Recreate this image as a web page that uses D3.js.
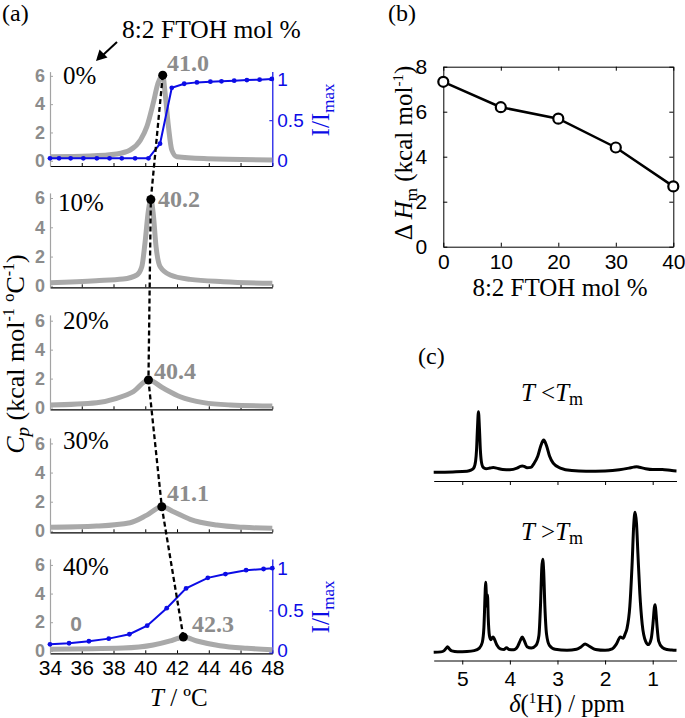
<!DOCTYPE html>
<html><head><meta charset="utf-8">
<script src="https://cdn.jsdelivr.net/npm/d3@7"></script>
<style>body{margin:0;background:#fff} svg{display:block}</style>
</head><body><svg id="c" width="685" height="718"></svg>
<script>
// ---------------- Panel (a) data ----------------
const tempTicks = [34,36,38,40,42,44,46,48];
const cpTicks = [0,2,4,6];
const ratioTicks = [0,0.5,1];
const ratioTickLabels = ["0","0.5","1"];
const molLabels = ["0%","10%","20%","30%","40%"];
const peakLabels = ["41.0","40.2","40.4","41.1","42.3"];
const peakT = [41.1, 40.35, 40.2, 41.04, 42.4];
const peakCp = [6.05, 5.9, 1.9, 1.65, 0.97];

const cpT_0 = [34,36.5,38.2,39.05,39.7,40.1,40.5,40.8,41.1,41.25,41.46,41.67,41.98,43.9,48];
const cp_0  = [0.29,0.34,0.48,0.76,1.47,2.41,4.07,5.48,6.05,4.77,2.41,0.76,0.29,0.15,0.06];
const cpT_10 = [34,36.9,38.6,39.47,39.78,40.0,40.2,40.35,40.5,40.68,40.94,41.57,42.83,44.93,48];
const cp_10  = [0.21,0.35,0.46,0.74,1.3,3.1,5.17,5.9,4.94,2.67,1.3,0.74,0.44,0.28,0.17];
const cpT_20 = [34,36.94,38.2,39.25,40.2,41.15,42.2,43.67,45.35,48];
const cp_20  = [0.18,0.34,0.64,1.1,1.9,1.33,0.75,0.34,0.18,0.11];
const cpT_30 = [34,36.94,39.04,40.1,41.04,41.78,42.83,44.5,46.2,48];
const cp_30  = [0.24,0.33,0.56,1.08,1.65,1.31,0.79,0.4,0.24,0.17];
const cpT_40 = [34,38.6,40.5,41.57,42.0,42.4,43.25,44.7,46.4,48];
const cp_40  = [0.12,0.2,0.41,0.69,0.85,0.97,0.69,0.36,0.18,0.08];

const ratioT_0 = [34.0,34.57,35.3,36.1,36.95,37.75,38.52,39.36,40.2,40.93,41.67,42.45,43.25,44.1,44.8,45.6,46.4,47.2,47.97];
const ratio_0  = [0.03,0.03,0.03,0.03,0.03,0.03,0.03,0.03,0.03,0.21,0.9,0.95,0.967,0.976,0.98,0.988,0.996,1.0,1.01];
const ratioT_40 = [34.0,35.2,36.45,37.7,39.0,40.12,41.35,42.57,43.94,45.05,46.35,47.45,48.0];
const ratio_40  = [0.097,0.109,0.133,0.164,0.216,0.318,0.525,0.76,0.885,0.93,0.976,0.99,1.0];

// ---------------- Panel (b) data ----------------
const molPct = [0,10,20,30,40];
const dHm = [7.33,6.2,5.69,4.41,2.68];
const molTicks = [0,10,20,30,40];
const dHTicks = [0,2,4,6,8];

// ---------------- Panel (c) data ----------------
const ppmTicks = [5,4,3,2,1];
const topPpm = [5.6,5.2,4.9,4.82,4.76,4.72,4.70,4.68,4.66,4.64,4.62,4.60,4.56,4.5,4.42,4.35,4.28,4.15,4.0,3.85,3.78,3.74,3.70,3.64,3.56,3.49,3.415,3.35,3.29,3.23,3.165,3.09,2.94,2.7,2.4,2.0,1.7,1.5,1.4,1.34,1.28,1.15,1.0,0.8,0.6,0.5];
const topInt = [0,0.003,0.008,0.015,0.03,0.08,0.16,0.32,0.433,0.32,0.16,0.08,0.035,0.025,0.03,0.034,0.03,0.02,0.018,0.03,0.042,0.045,0.042,0.032,0.035,0.065,0.115,0.19,0.23,0.19,0.115,0.065,0.03,0.012,0.008,0.01,0.018,0.03,0.037,0.04,0.036,0.026,0.02,0.02,0.012,0.01];
const botPpm = [5.6,5.45,5.38,5.34,5.31,5.28,5.22,5.1,4.9,4.75,4.64,4.58,4.545,4.52,4.51,4.495,4.485,4.47,4.455,4.43,4.40,4.37,4.35,4.32,4.27,4.2,4.12,4.07,4.02,3.92,3.84,3.78,3.74,3.70,3.64,3.55,3.45,3.39,3.355,3.33,3.31,3.29,3.265,3.23,3.17,3.05,2.8,2.6,2.5,2.42,2.34,2.2,2.0,1.85,1.76,1.68,1.62,1.58,1.54,1.48,1.43,1.40,1.37,1.34,1.31,1.27,1.22,1.15,1.09,1.03,0.99,0.965,0.95,0.935,0.91,0.875,0.8,0.7,0.6,0.5];
const botInt = [0,0.003,0.012,0.028,0.04,0.028,0.01,0.004,0.006,0.012,0.03,0.07,0.18,0.42,0.5,0.42,0.33,0.41,0.25,0.12,0.09,0.105,0.11,0.09,0.05,0.025,0.02,0.033,0.02,0.018,0.04,0.085,0.11,0.085,0.04,0.03,0.05,0.12,0.35,0.6,0.664,0.58,0.33,0.13,0.05,0.022,0.015,0.022,0.04,0.06,0.045,0.02,0.014,0.025,0.06,0.11,0.10,0.13,0.17,0.33,0.65,0.9,1.0,0.92,0.7,0.42,0.2,0.08,0.055,0.1,0.22,0.32,0.34,0.3,0.19,0.08,0.035,0.02,0.016,0.014];

// ---------------- drawing ----------------
const SERIF = "'Liberation Serif','Times New Roman',serif";
const SANS = "'Liberation Sans',Arial,sans-serif";
const GRAYTXT = "#8c8c8c", GRAYAX = "#a3a3a3", GRAYLINE = "#a9a9a9", BLUE = "#0c0ce6";
const fmtInt = d3.format("d");
const svg = d3.select("#c");
svg.append("rect").attr("width",685).attr("height",718).attr("fill","#fff");

function rich(sel, parts){
  parts.forEach(p=>{
    const t = sel.append("tspan").text(p.t);
    if(p.i) t.attr("font-style","italic");
    if(p.s) t.attr("font-size",p.s);
    if(p.dy) t.attr("dy",p.dy);
  });
  return sel;
}

// ---- Panel (a) ----
const xA = d3.scaleLinear().domain([34,48]).range([50,272.3]);
const bottoms = [166,287.3,409.3,532.3,653.3];
const H = 94.4;
const cpDomains = [[-0.37,6.3],[-0.1,6.35],[-0.12,6.4],[-0.1,6.38],[-0.17,6.42]];
const ratioDomains = {0:[-0.065,1.1], 4:[-0.01,1.11]};
const ratioTitleY = {0:110, 4:607};
const cpSeries = [[cpT_0,cp_0],[cpT_10,cp_10],[cpT_20,cp_20],[cpT_30,cp_30],[cpT_40,cp_40]];
const ratioSeries = {0:[ratioT_0,ratio_0], 4:[ratioT_40,ratio_40]};
const molPos = [[63,84],[58,211],[63,329],[63,449],[63,575]];
const peakLabPos = [[167,71],[158,207],[154,379],[167,501],[192,632]];
const yScales = [];

cpSeries.forEach((s,i)=>{
  const b = bottoms[i];
  const y = d3.scaleLinear().domain(cpDomains[i]).range([b, b-H]);
  yScales.push(y);
  const g = svg.append("g");
  // x axis
  const ax = d3.axisBottom(xA).tickValues(tempTicks).tickFormat(fmtInt).tickSizeInner(-3).tickSizeOuter(0).tickPadding(7);
  if(i<4) ax.tickFormat("");
  const gx = g.append("g").attr("transform",`translate(0,${b})`).call(ax);
  gx.select(".domain").attr("stroke","#000").attr("stroke-width",1.2);
  gx.selectAll(".tick line").attr("stroke","#000");
  gx.selectAll("text").attr("font-family",SANS).attr("font-size",21).attr("fill","#000");
  // left axis
  const gy = g.append("g").attr("transform",`translate(${xA.range()[0]},0)`)
    .call(d3.axisLeft(y).tickValues(cpTicks).tickFormat(fmtInt).tickSizeInner(-3).tickSizeOuter(0).tickPadding(5));
  gy.select(".domain").attr("stroke",GRAYAX).attr("stroke-width",1.2);
  gy.selectAll(".tick line").attr("stroke",GRAYAX);
  gy.selectAll("text").attr("font-family",SANS).attr("font-size",18).attr("font-weight","bold").attr("fill",GRAYTXT);
  // right axis (blue)
  if(ratioSeries[i]){
    const yr = d3.scaleLinear().domain(ratioDomains[i]).range([b, b-H]);
    const gr = g.append("g").attr("transform",`translate(${xA.range()[1]},0)`)
      .call(d3.axisRight(yr).tickValues(ratioTicks).tickFormat((d,j)=>ratioTickLabels[j]).tickSizeInner(-3).tickSizeOuter(0).tickPadding(5));
    gr.select(".domain").attr("stroke",BLUE).attr("stroke-width",1.2);
    gr.selectAll(".tick line").attr("stroke",BLUE);
    gr.selectAll("text").attr("font-family",SANS).attr("font-size",19).attr("fill",BLUE);
    if(i===4) gr.selectAll(".tick text").filter(d=>d===0).attr("dy","0.2em");
    const tt = g.append("text").attr("transform",`translate(329,${ratioTitleY[i]}) rotate(-90)`)
      .attr("text-anchor","middle").attr("font-family",SERIF).attr("font-size",25).attr("fill",BLUE);
    rich(tt,[{t:"I/I"},{t:"max",s:"17px",dy:"5"}]);
  }
  // gray Cp curve
  const pts = s[0].map((t,k)=>[t,s[1][k]]);
  g.append("path").attr("d", d3.line().x(d=>xA(d[0])).y(d=>y(d[1])).curve(d3.curveMonotoneX)(pts))
    .attr("fill","none").attr("stroke",GRAYLINE).attr("stroke-width",5).attr("stroke-linejoin","round");
  // blue ratio curve
  if(ratioSeries[i]){
    const yr = d3.scaleLinear().domain(ratioDomains[i]).range([b, b-H]);
    const rp = ratioSeries[i][0].map((t,k)=>[t,ratioSeries[i][1][k]]);
    g.append("path").attr("d", d3.line().x(d=>xA(d[0])).y(d=>yr(d[1]))(rp))
      .attr("fill","none").attr("stroke",BLUE).attr("stroke-width",2);
    g.selectAll("circle.r").data(rp).enter().append("circle")
      .attr("cx",d=>xA(d[0])).attr("cy",d=>yr(d[1])).attr("r",2.4).attr("fill",BLUE);
  }
  // mol % label
  g.append("text").attr("x",molPos[i][0]).attr("y",molPos[i][1]).text(molLabels[i])
    .attr("font-family",SERIF).attr("font-size",25).attr("fill","#000");
  // peak label
  g.append("text").attr("x",peakLabPos[i][0]).attr("y",peakLabPos[i][1]).text(peakLabels[i])
    .attr("font-family",SERIF).attr("font-size",24).attr("font-weight","bold").attr("fill",GRAYTXT);
});
// stray "0" label in the 40% plot
svg.append("text").attr("x",76).attr("y",631).attr("text-anchor","middle").text("0")
  .attr("font-family",SANS).attr("font-size",21).attr("font-weight","bold").attr("fill",GRAYTXT);

// dashed line through peaks + dots
const peakPts = peakT.map((t,i)=>[xA(t), yScales[i](peakCp[i])]);
svg.append("path").attr("d", d3.line()(peakPts)).attr("fill","none")
  .attr("stroke","#000").attr("stroke-width",2.3).attr("stroke-dasharray","5,3");
svg.selectAll("circle.pk").data(peakPts).enter().append("circle")
  .attr("cx",d=>d[0]).attr("cy",d=>d[1]).attr("r",4.5).attr("fill","#000");

// labels & arrow
svg.append("text").attr("x",2).attr("y",21).text("(a)").attr("font-family",SERIF).attr("font-size",24);
svg.append("text").attr("x",122).attr("y",38).text("8:2 FTOH mol %").attr("font-family",SERIF).attr("font-size",25.5);
svg.append("line").attr("x1",117).attr("y1",42).attr("x2",103).attr("y2",55).attr("stroke","#000").attr("stroke-width",2);
svg.append("path").attr("d","M96,61 L99.5,49.5 L107.5,57.5 Z").attr("fill","#000");

const ytA = svg.append("text").attr("transform","translate(24,354) rotate(-90)").attr("text-anchor","middle")
  .attr("font-family",SERIF).attr("font-size",26).attr("fill","#000");
rich(ytA,[{t:"C",i:1},{t:"p",i:1,s:"19px",dy:"5"},{t:" (kcal mol",dy:"-5"},{t:"-1",s:"16px",dy:"-10"},{t:" ºC",dy:"10"},{t:"-1",s:"16px",dy:"-10"},{t:")",dy:"10"}]);
const xtA = svg.append("text").attr("x",150).attr("y",706).attr("font-family",SERIF).attr("font-size",25);
rich(xtA,[{t:"T",i:1},{t:" / ºC"}]);

// ---- Panel (b) ----
const xB = d3.scaleLinear().domain([0,40]).range([443.3,673.3]);
const yB = d3.scaleLinear().domain([0,8]).range([246.7,66.7]);
const gb = svg.append("g");
function styleAx(sel){ sel.select(".domain").attr("stroke","#000"); sel.selectAll(".tick line").attr("stroke","#000");
  sel.selectAll("text").attr("font-family",SANS).attr("font-size",21).attr("fill","#000"); }
styleAx(gb.append("g").attr("transform","translate(0,246.7)").call(d3.axisBottom(xB).tickValues(molTicks).tickFormat(fmtInt).tickSizeInner(-4).tickSizeOuter(0).tickPadding(7)));
styleAx(gb.append("g").attr("transform","translate(0,66.7)").call(d3.axisTop(xB).tickValues(molTicks).tickSizeInner(-4).tickSizeOuter(0).tickFormat("")));
styleAx(gb.append("g").attr("transform","translate(443.3,0)").call(d3.axisLeft(yB).tickValues(dHTicks).tickFormat(fmtInt).tickSizeInner(-4).tickSizeOuter(0).tickPadding(16)));
styleAx(gb.append("g").attr("transform","translate(673.3,0)").call(d3.axisRight(yB).tickValues(dHTicks).tickSizeInner(-4).tickSizeOuter(0).tickFormat("")));
const bPts = molPct.map((m,i)=>[m,dHm[i]]);
gb.append("path").attr("d",d3.line().x(d=>xB(d[0])).y(d=>yB(d[1]))(bPts)).attr("fill","none").attr("stroke","#000").attr("stroke-width",2.5);
gb.selectAll("circle").data(bPts).enter().append("circle").attr("cx",d=>xB(d[0])).attr("cy",d=>yB(d[1]))
  .attr("r",5).attr("fill","#fff").attr("stroke","#000").attr("stroke-width",2.2);
svg.append("text").attr("x",388).attr("y",21).text("(b)").attr("font-family",SERIF).attr("font-size",24);
svg.append("text").attr("x",560).attr("y",296).attr("text-anchor","middle").text("8:2 FTOH mol %").attr("font-family",SERIF).attr("font-size",25);
const ytB = svg.append("text").attr("transform","translate(412,153) rotate(-90)").attr("text-anchor","middle")
  .attr("font-family",SERIF).attr("font-size",25);
rich(ytB,[{t:"Δ "},{t:"H",i:1},{t:"m",s:"17px",dy:"5"},{t:" (kcal mol",dy:"-5"},{t:"-1",s:"15px",dy:"-9"},{t:")",dy:"9"}]);

// ---- Panel (c) ----
const xC = d3.scaleLinear().domain([5.6,0.5]).range([433.7,676.5]);
const yTop = d3.scaleLinear().domain([0,1]).range([472.3,332.3]);
const yBot = d3.scaleLinear().domain([0,1]).range([652.3,512.3]);
const gc = svg.append("g");
const topAx = gc.append("g").attr("transform","translate(0,481)").call(d3.axisBottom(xC).tickValues(ppmTicks).tickSizeInner(4).tickSizeOuter(0).tickFormat(""));
styleAx(topAx);
const botAx = gc.append("g").attr("transform","translate(0,660.5)").call(d3.axisBottom(xC).tickValues(ppmTicks).tickFormat(fmtInt).tickSizeInner(4).tickSizeOuter(0).tickPadding(7));
styleAx(botAx);
const specLine = (yS)=>d3.line().x(d=>xC(d[0])).y(d=>yS(d[1])).curve(d3.curveMonotoneX);
gc.append("path").attr("d",specLine(yTop)(topPpm.map((p,i)=>[p,topInt[i]]))).attr("fill","none").attr("stroke","#000").attr("stroke-width",3).attr("stroke-linejoin","round");
gc.append("path").attr("d",specLine(yBot)(botPpm.map((p,i)=>[p,botInt[i]]))).attr("fill","none").attr("stroke","#000").attr("stroke-width",3).attr("stroke-linejoin","round");
svg.append("text").attr("x",418).attr("y",364).text("(c)").attr("font-family",SERIF).attr("font-size",24);
const t1 = svg.append("text").attr("x",552).attr("y",401).attr("text-anchor","middle").attr("font-family",SERIF).attr("font-size",25);
rich(t1,[{t:"T",i:1},{t:" <"},{t:"T",i:1},{t:"m",s:"18px",dy:"4"}]);
const t2 = svg.append("text").attr("x",552).attr("y",540).attr("text-anchor","middle").attr("font-family",SERIF).attr("font-size",25);
rich(t2,[{t:"T",i:1},{t:" >"},{t:"T",i:1},{t:"m",s:"18px",dy:"4"}]);
const xtC = svg.append("text").attr("x",567).attr("y",712).attr("text-anchor","middle").attr("font-family",SERIF).attr("font-size",24.5);
rich(xtC,[{t:"δ",i:1},{t:"("},{t:"1",s:"15px",dy:"-9"},{t:"H",dy:"9"},{t:") / ppm"}]);
</script></body></html>
